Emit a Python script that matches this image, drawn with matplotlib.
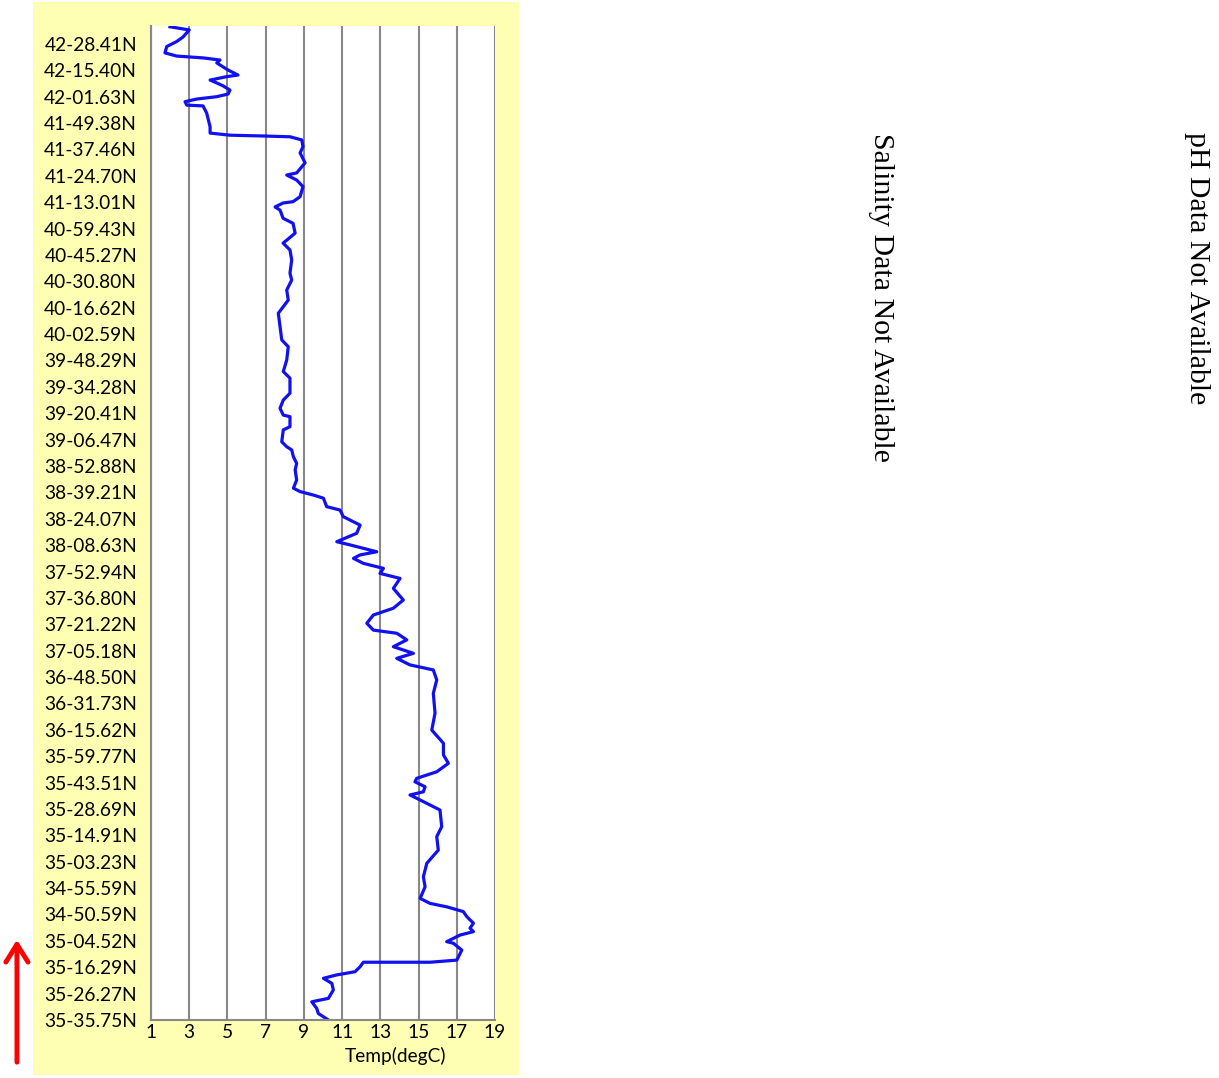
import matplotlib
matplotlib.use("Agg")
import matplotlib.pyplot as plt
from matplotlib.patches import FancyArrowPatch

# 温度プロファイル (track position, temp)
track = [376.5, 375.3, 372.6, 370.9, 369.0, 366.6, 365.4, 364.7, 363.9, 362.8,
         360.1, 358.2, 357.6, 356.3, 355.2, 354.1, 352.5, 351.0, 350.0, 349.1,
         348.1, 346.8, 346.5, 343.8, 338.6, 336.2, 335.4, 335.1, 334.8, 333.6,
         331.0, 328.7, 324.9, 321.1, 320.3, 318.4, 315.9, 312.1, 310.2, 309.7,
         308.2, 307.0, 303.9, 302.0, 298.3, 295.6, 294.5, 291.9, 288.1, 283.1,
         280.5, 276.7, 272.9, 270.4, 267.9, 262.8, 257.8, 255.2, 250.2, 245.8,
         243.3, 237.6, 235.0, 231.9, 229.3, 228.7, 224.9, 223.7, 219.2, 217.3,
         216.1, 213.5, 211.0, 208.5, 204.7, 201.6, 200.3, 199.0, 197.8, 194.6,
         193.3, 190.8, 187.6, 184.5, 181.3, 180.1, 177.5, 176.3, 175.0, 173.1,
         171.2, 169.3, 167.4, 163.6, 159.2, 156.1, 153.5, 150.4, 147.8, 146.6,
         144.1, 141.5, 139.0, 137.1, 134.6, 132.7, 128.9, 123.8, 116.3, 109.9,
         104.9, 100.5, 97.3, 94.1, 91.6, 90.3, 88.4, 86.5, 85.3, 83.4,
         79.6, 73.3, 69.5, 64.4, 59.4, 54.3, 50.5, 46.1, 44.2, 42.9,
         41.1, 39.2, 36.7, 34.8, 33.5, 32.2, 29.7, 29.1, 26.5, 22.7,
         21.9, 21.9, 20.2, 18.3, 17.1, 15.8, 13.9, 11.4, 8.2, 6.9,
         4.4, 2.5, 0.0]
temp = [1.99, 3.00, 2.67, 2.34, 1.82, 1.73, 2.34, 3.72, 4.61, 4.44,
        5.03, 5.55, 4.96, 4.09, 4.44, 4.77, 5.13, 5.03, 4.44, 3.39,
        2.78, 2.87, 3.72, 3.91, 4.09, 4.09, 5.13, 6.86, 8.27, 8.89,
        8.95, 8.80, 9.06, 8.62, 8.10, 8.62, 8.95, 8.80, 8.43, 7.91,
        7.49, 7.75, 7.91, 8.43, 8.54, 8.10, 7.91, 8.27, 8.36, 8.27,
        8.36, 8.10, 8.18, 7.92, 7.66, 7.75, 7.84, 8.18, 8.10, 7.92,
        8.27, 8.27, 7.92, 7.75, 7.92, 8.27, 8.27, 7.92, 7.84, 8.10,
        8.36, 8.45, 8.62, 8.54, 8.62, 8.45, 8.80, 9.49, 10.02, 10.19,
        10.89, 11.06, 11.94, 11.76, 10.72, 11.41, 12.81, 11.94, 11.59, 12.11,
        13.16, 12.98, 14.03, 13.68, 14.20, 13.68, 12.63, 12.29, 12.63, 13.86,
        14.38, 13.68, 14.73, 13.86, 14.55, 15.77, 15.95, 15.77, 15.86, 15.69,
        16.30, 16.30, 16.56, 15.95, 14.90, 14.81, 15.34, 15.25, 14.55, 15.08,
        16.12, 16.21, 15.95, 16.03, 15.43, 15.25, 15.34, 15.08, 15.60, 16.47,
        17.34, 17.52, 17.87, 17.69, 17.87, 17.17, 16.47, 16.82, 17.26, 17.00,
        15.60, 12.11, 11.94, 11.67, 10.72, 10.02, 10.46, 10.54, 10.28, 9.41,
        9.67, 9.75, 10.28]

lat_labels = ['35-35.75N', '35-26.27N', '35-16.29N', '35-04.52N', '34-50.59N',
              '34-55.59N', '35-03.23N', '35-14.91N', '35-28.69N', '35-43.51N',
              '35-59.77N', '36-15.62N', '36-31.73N', '36-48.50N', '37-05.18N',
              '37-21.22N', '37-36.80N', '37-52.94N', '38-08.63N', '38-24.07N',
              '38-39.21N', '38-52.88N', '39-06.47N', '39-20.41N', '39-34.28N',
              '39-48.29N', '40-02.59N', '40-16.62N', '40-30.80N', '40-45.27N',
              '40-59.43N', '41-13.01N', '41-24.70N', '41-37.46N', '41-49.38N',
              '42-01.63N', '42-15.40N', '42-28.41N']
lat_pos = [i * 10 for i in range(len(lat_labels))]
temp_ticks = [1, 3, 5, 7, 9, 11, 13, 15, 17, 19]

fig = plt.figure(figsize=(12.19, 10.78), dpi=100)

# 黄色い背景 (axes の後ろ)
bg = fig.add_axes([0.0271, 0.0028, 0.3987, 0.9954], zorder=-1)
bg.set_facecolor('#FFFFB3')
bg.set_xticks([])
bg.set_yticks([])
for s in bg.spines.values():
    s.set_visible(False)

ax = fig.add_axes([0.1239, 0.0538, 0.2822, 0.9221])
ax.set_facecolor('white')
ax.plot(temp, track, color='#1010F0', linewidth=2.3, solid_joinstyle='round')

ax.set_xlim(1, 19)
ax.set_ylim(0, 376.8)
ax.set_xticks(temp_ticks)
ax.set_yticks(lat_pos)
ax.set_yticklabels(lat_labels)
ax.tick_params(axis='y', length=0, labelsize=13.8, pad=10)
ax.tick_params(axis='x', length=0, labelsize=13.8, pad=3)
for lab in ax.get_xticklabels() + ax.get_yticklabels():
    lab.set_fontfamily('Lato')
ax.xaxis.grid(True, color='#888888', linewidth=1.5)
ax.set_axisbelow(True)
for s in ['top', 'right']:
    ax.spines[s].set_visible(False)
for s in ['left', 'bottom']:
    ax.spines[s].set_color('#888888')
    ax.spines[s].set_linewidth(1.5)
ax.set_xlabel('Temp(degC)', fontsize=13.8, fontfamily='Lato')
ax.xaxis.set_label_coords(0.712, -0.027, transform=ax.transAxes)
ax.xaxis.label.set_va('top')

# 右側のテキスト
fig.text(0.7227, 0.7245, 'Salinity Data Not Available', rotation=-90, ha='center', va='center',
         fontsize=21.5, fontfamily='Liberation Serif')
fig.text(0.9820, 0.7514, 'pH Data Not Available', rotation=-90, ha='center', va='center',
         fontsize=21.5, fontfamily='Liberation Serif')

# 赤い矢印
fig.patches.append(FancyArrowPatch((0.0139, 0.0121), (0.0139, 0.1308),
                   transform=fig.transFigure, arrowstyle='->,head_length=8,head_width=5',
                   color='red', linewidth=3.5, mutation_scale=1.6))

fig.savefig('out.png', dpi=100)
